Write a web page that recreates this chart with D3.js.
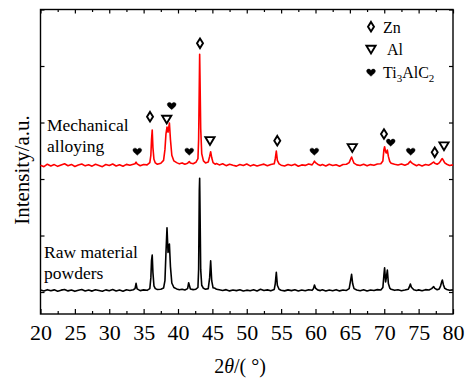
<!DOCTYPE html>
<html>
<head>
<meta charset="utf-8">
<script src="https://cdn.jsdelivr.net/npm/d3@7"></script>
<style>
  html, body { margin: 0; padding: 0; background: #fff; }
  svg { display: block; font-family: "Liberation Serif", "Times New Roman", serif; }
</style>
</head>
<body>
<svg id="chart" width="468" height="379"></svg>
<script>
// ---- DATA ----
const xTicks = [20, 25, 30, 35, 40, 45, 50, 55, 60, 65, 70, 75, 80];
const yTicks = [0, 1000, 2000, 3000, 4000, 5000];

// Mechanical alloying pattern (offset upwards), [2theta, intensity]
const maPattern = [
  [20.0,2245],[20.5,2218],[21.0,2262],[21.5,2231],[22.0,2255],[22.5,2224],[23.0,2249],[23.5,2270],
  [24.0,2236],[24.5,2258],[25.0,2222],[25.5,2247],[26.0,2266],[26.5,2233],[27.0,2251],[27.5,2228],
  [28.0,2260],[28.5,2241],[29.0,2219],[29.5,2256],[30.0,2238],[30.5,2265],[31.0,2230],[31.5,2252],
  [32.0,2227],[32.5,2259],[33.0,2243],[33.5,2262],[33.75,2270],[33.9,2300],[34.05,2268],[34.5,2235],
  [35.0,2258],[35.5,2250],[35.9,2290],[36.05,2420],[36.15,2700],[36.25,2868],[36.35,2560],[36.5,2350],
  [36.7,2285],[37.0,2262],[37.5,2280],[37.9,2330],[38.1,2520],[38.25,2800],[38.4,2920],[38.55,2830],
  [38.75,2991],[38.9,2700],[39.1,2420],[39.4,2320],[39.8,2290],[40.2,2268],[40.6,2285],[41.0,2262],
  [41.4,2278],[41.55,2300],[41.65,2310],[41.8,2282],[42.2,2270],[42.6,2296],[42.9,2360],[43.0,2700],
  [43.1,3700],[43.15,4207],[43.2,3800],[43.3,2900],[43.45,2450],[43.7,2320],[44.0,2285],[44.4,2300],
  [44.6,2400],[44.75,2483],[44.9,2380],[45.1,2290],[45.4,2262],[45.6,2275],[46.0,2250],[46.5,2271],
  [47.0,2236],[47.5,2262],[48.0,2244],[48.5,2228],[49.0,2258],[49.5,2239],[50.0,2266],[50.5,2232],
  [51.0,2254],[51.5,2229],[52.0,2248],[52.5,2263],[53.0,2235],[53.5,2257],[54.0,2270],[54.15,2360],
  [54.3,2496],[54.45,2330],[54.7,2268],[55.0,2245],[55.5,2230],[56.0,2257],[56.5,2238],[57.0,2262],
  [57.5,2226],[58.0,2250],[58.5,2241],[59.0,2264],[59.5,2250],[59.7,2285],[59.85,2315],[60.0,2290],
  [60.3,2262],[60.7,2240],[61.0,2256],[61.5,2231],[62.0,2260],[62.5,2238],[63.0,2253],[63.5,2227],
  [64.0,2258],[64.5,2262],[64.9,2290],[65.1,2350],[65.25,2390],[65.4,2340],[65.6,2280],[66.0,2250],
  [66.5,2238],[67.0,2261],[67.5,2233],[68.0,2255],[68.5,2242],[69.0,2266],[69.5,2270],[69.8,2320],
  [69.95,2520],[70.05,2572],[70.2,2480],[70.3,2460],[70.45,2513],[70.6,2400],[70.8,2310],[71.0,2280],
  [71.5,2262],[72.0,2248],[72.5,2265],[73.0,2244],[73.5,2270],[73.65,2295],[73.8,2315],[73.95,2290],
  [74.3,2260],[74.7,2236],[75.0,2255],[75.5,2232],[76.0,2258],[76.5,2245],[76.9,2275],[77.05,2290],
  [77.2,2300],[77.35,2280],[77.7,2262],[78.0,2285],[78.2,2320],[78.35,2350],[78.45,2360],[78.6,2330],
  [78.8,2285],[79.1,2262],[79.5,2240],[80.0,2250]
];

// Raw material powders pattern, [2theta, intensity]
const rawPattern = [
  [20.0,35],[20.5,18],[21.0,42],[21.5,22],[22.0,38],[22.5,15],[23.0,33],[23.5,45],
  [24.0,20],[24.5,36],[25.0,12],[25.5,30],[26.0,44],[26.5,19],[27.0,35],[27.5,16],
  [28.0,40],[28.5,27],[29.0,13],[29.5,38],[30.0,22],[30.5,43],[31.0,18],[31.5,34],
  [32.0,15],[32.5,39],[33.0,26],[33.5,40],[33.75,60],[33.9,154],[34.05,55],[34.5,25],
  [35.0,38],[35.5,30],[35.9,60],[36.05,250],[36.15,560],[36.25,655],[36.35,350],[36.5,110],
  [36.7,60],[37.0,45],[37.5,50],[37.9,70],[38.1,200],[38.25,700],[38.4,1138],[38.55,700],
  [38.75,850],[38.9,450],[39.1,160],[39.4,80],[39.8,55],[40.2,40],[40.6,48],[41.0,36],
  [41.4,60],[41.55,165],[41.65,120],[41.8,55],[42.2,42],[42.6,50],[42.9,80],[43.0,400],
  [43.1,1800],[43.15,2012],[43.2,1500],[43.3,400],[43.45,120],[43.7,65],[44.0,50],[44.4,60],
  [44.6,250],[44.75,553],[44.9,200],[45.1,75],[45.4,65],[45.6,48],[46.0,40],[46.5,28],
  [47.0,42],[47.5,20],[48.0,36],[48.5,25],[49.0,40],[49.5,17],[50.0,33],[50.5,22],
  [51.0,41],[51.5,19],[52.0,48],[52.5,26],[53.0,38],[53.5,21],[54.0,45],[54.15,150],
  [54.3,349],[54.45,120],[54.7,50],[55.0,32],[55.5,20],[56.0,38],[56.5,25],[57.0,40],
  [57.5,18],[58.0,35],[58.5,22],[59.0,41],[59.5,30],[59.7,60],[59.85,124],[60.0,70],
  [60.3,38],[60.7,25],[61.0,40],[61.5,18],[62.0,36],[62.5,24],[63.0,42],[63.5,20],
  [64.0,35],[64.5,28],[64.9,60],[65.1,200],[65.25,313],[65.4,150],[65.6,60],[66.0,35],
  [66.5,22],[67.0,40],[67.5,18],[68.0,37],[68.5,26],[69.0,42],[69.5,35],[69.8,80],
  [69.95,300],[70.05,430],[70.2,180],[70.3,250],[70.45,389],[70.6,150],[70.8,70],[71.0,48],
  [71.5,30],[72.0,40],[72.5,24],[73.0,36],[73.5,50],[73.65,90],[73.8,142],[73.95,85],
  [74.3,40],[74.7,28],[75.0,38],[75.5,22],[76.0,42],[76.5,35],[76.9,60],[77.05,80],
  [77.2,94],[77.35,65],[77.7,40],[78.0,55],[78.2,110],[78.35,180],[78.45,212],[78.6,130],
  [78.8,65],[79.1,45],[79.5,30],[80.0,38]
];

// Phase markers [2theta, intensity level]
const znMarks = [[35.93,3103],[43.2,4402],[54.44,2678],[69.96,2797],[77.34,2473]];
const alMarks = [[38.36,3057],[44.65,2678],[65.35,2554],[78.69,2584]];
const tiMarks = [[34.08,2483],[39.08,3292],[41.64,2483],[59.83,2483],[70.94,2643],[73.85,2483]];

const legendItems = ["Zn", "Al", "Ti3AlC2"];
const sampleLabels = [["Mechanical", "alloying"], ["Raw material", "powders"]];

// ---- DRAWING ----
const svg = d3.select("#chart");
const L = 40.5, R = 453, T = 9.5, B = 314;

const x = d3.scaleLinear().domain([20, 80]).range([L, R]);
const y = d3.scaleLinear().domain([-389, 5000]).range([B, T]);

const minorX = d3.range(20, 80.01, 2.5).filter(v => v % 5 !== 0);

// axes
const gB = svg.append("g").attr("transform", `translate(0,${B})`)
  .call(d3.axisBottom(x).tickValues(xTicks).tickSize(-5).tickPadding(10).tickFormat(d3.format("d")));
const gBm = svg.append("g").attr("transform", `translate(0,${B})`)
  .call(d3.axisBottom(x).tickValues(minorX).tickSize(-3).tickFormat(""));
const gT = svg.append("g").attr("transform", `translate(0,${T})`)
  .call(d3.axisTop(x).tickValues(xTicks).tickSize(-4).tickFormat(""));
const gTm = svg.append("g").attr("transform", `translate(0,${T})`)
  .call(d3.axisTop(x).tickValues(minorX).tickSize(-2.5).tickFormat(""));
const gL = svg.append("g").attr("transform", `translate(${L},0)`)
  .call(d3.axisLeft(y).tickValues(yTicks).tickSize(-4).tickFormat(""));
const gR = svg.append("g").attr("transform", `translate(${R},0)`)
  .call(d3.axisRight(y).tickValues(yTicks).tickSize(-4).tickFormat(""));

[gB, gBm, gT, gTm, gL, gR].forEach(g => {
  g.select(".domain").remove();
  g.attr("font-family", null);
  g.selectAll(".tick line").attr("stroke", "#000").attr("stroke-width", 1.2);
});
gB.selectAll(".tick text")
  .attr("font-family", "Liberation Serif").attr("font-size", 22).attr("fill", "#000")
  .attr("dy", "0.71em").attr("y", 10);

// frame
svg.append("rect").attr("x", L).attr("y", T).attr("width", R - L).attr("height", B - T)
  .attr("fill", "none").attr("stroke", "#000").attr("stroke-width", 1.4);

// data lines
const line = d3.line().x(d => x(d[0])).y(d => y(d[1]));
svg.append("path").datum(rawPattern).attr("d", line)
  .attr("fill", "none").attr("stroke", "#000").attr("stroke-width", 1.6).attr("stroke-linejoin", "round");
svg.append("path").datum(maPattern).attr("d", line)
  .attr("fill", "none").attr("stroke", "#ff0000").attr("stroke-width", 1.6).attr("stroke-linejoin", "round");

// marker shapes
const diamondPath = "M0,-4.8 L3,0 L0,4.8 L-3,0 Z";
const triPath = "M-4.6,-3.6 L4.6,-3.6 L0,4.2 Z";
const heartPath = "M0,3.6 C-1,2.6 -4.4,0.2 -4.4,-1.6 C-4.4,-3.8 -1.6,-4.4 0,-2.2 C1.6,-4.4 4.4,-3.8 4.4,-1.6 C4.4,0.2 1,2.6 0,3.6 Z";

function drawMarks(data, p, fill, sw) {
  svg.append("g").selectAll("path").data(data).join("path")
    .attr("d", p)
    .attr("transform", d => `translate(${x(d[0])},${y(d[1])})`)
    .attr("fill", fill).attr("stroke", "#000").attr("stroke-width", sw)
    .attr("stroke-linejoin", "miter");
}
drawMarks(znMarks, diamondPath, "#fff", 1.9);
drawMarks(alMarks, triPath, "#fff", 1.9);
drawMarks(tiMarks, heartPath, "#000", 0.4);

// legend
const lg = svg.append("g");
const legY = [26.7, 49.3, 72.7];
lg.append("path").attr("d", diamondPath).attr("transform", `translate(371,${legY[0]})`)
  .attr("fill", "#fff").attr("stroke", "#000").attr("stroke-width", 1.9);
lg.append("path").attr("d", triPath).attr("transform", `translate(371,${legY[1]})`)
  .attr("fill", "#fff").attr("stroke", "#000").attr("stroke-width", 1.9);
lg.append("path").attr("d", heartPath).attr("transform", `translate(371,${legY[2]})`)
  .attr("fill", "#000").attr("stroke", "#000").attr("stroke-width", 0.4);

lg.append("text").attr("x", 383).attr("y", 32.5).attr("font-size", 16).text(legendItems[0]);
lg.append("text").attr("x", 387).attr("y", 55).attr("font-size", 16).text(legendItems[1]);
const ti = lg.append("text").attr("x", 383).attr("y", 78).attr("font-size", 16);
ti.append("tspan").text("Ti");
ti.append("tspan").attr("font-size", 11).attr("dy", 4).text("3");
ti.append("tspan").attr("dy", -4).text("AlC");
ti.append("tspan").attr("font-size", 11).attr("dy", 4).text("2");

// sample labels
const lab = svg.append("g").attr("font-size", 17.5).attr("fill", "#000");
lab.append("text").attr("x", 47).attr("y", 131).text(sampleLabels[0][0]);
lab.append("text").attr("x", 47).attr("y", 151.5).text(sampleLabels[0][1]);
lab.append("text").attr("x", 44).attr("y", 258).text(sampleLabels[1][0]);
lab.append("text").attr("x", 44).attr("y", 278.5).text(sampleLabels[1][1]);

// axis titles
const xt = svg.append("text").attr("x", 240).attr("y", 373).attr("text-anchor", "middle").attr("font-size", 20);
xt.append("tspan").text("2");
xt.append("tspan").attr("font-style", "italic").text("θ");
xt.append("tspan").text("/( °)");

svg.append("text").attr("transform", "translate(29,170) rotate(-90)")
  .attr("text-anchor", "middle").attr("font-size", 21).text("Intensity/a.u.");
</script>
</body>
</html>
